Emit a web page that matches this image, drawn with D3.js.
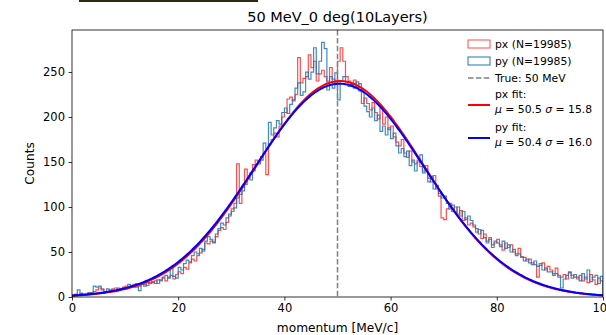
<!DOCTYPE html>
<html>
<head>
<meta charset="utf-8">
<script src="https://cdn.jsdelivr.net/npm/d3@7"></script>
<style>
  body { margin: 0; background: #fff; }
  svg { font-family: "DejaVu Sans", sans-serif; }
</style>
</head>
<body>
<div id="chart"></div>
<script>
///////////// data /////////////

// 200 bins of 0.5 MeV between 0 and 100 MeV/c
const binEdges = [0, 100];
const nBins = 200;

const pxCounts = [
  2, 3, 2, 4, 3, 2, 5, 4, 6, 8,
  10, 9, 5, 6, 8, 9, 10, 7, 9, 11,
  12, 10, 13, 14, 11, 12, 15, 14, 13, 16,
  16, 18, 15, 19, 21, 18, 22, 24, 20, 25,
  28, 26, 33, 31, 38, 42, 40, 46, 49, 53,
  60, 59, 62, 60, 67, 74, 77, 75, 83, 90,
  98, 104, 148, 104, 122, 142, 132, 138, 147, 152,
  150, 156, 160, 136, 170, 175, 182, 178, 190, 200,
  205, 220, 222, 218, 225, 266, 238, 243, 245, 269,
  255, 262, 240, 248, 252, 245, 240, 255, 242, 238,
  262, 277, 262, 245, 240, 236, 241, 233, 237, 215,
  221, 215, 208, 216, 205, 198, 210, 192, 200, 186,
  190, 178, 172, 168, 175, 160, 155, 162, 150, 148,
  152, 145, 140, 146, 132, 128, 135, 120, 112, 88,
  86, 98, 104, 95, 100, 92, 96, 85, 88, 80,
  82, 78, 72, 75, 65, 70, 62, 66, 58, 60,
  64, 58, 52, 60, 55, 58, 50, 48, 54, 45,
  44, 40, 42, 38, 36, 22, 35, 38, 30, 34,
  30, 26, 32, 24, 22, 25, 20, 27, 24, 22,
  20, 24, 18, 22, 16, 25, 19, 14, 21, 18
];

const pyCounts = [
  1, 3, 8, 4, 2, 3, 4, 5, 12, 11,
  12, 8, 6, 9, 7, 8, 6, 10, 9, 10,
  9, 14, 12, 11, 15, 7, 14, 12, 16, 15,
  17, 15, 19, 18, 22, 24, 21, 33, 23, 21,
  33, 30, 37, 41, 39, 46, 50, 48, 54, 51,
  62, 67, 64, 61, 70, 76, 82, 80, 88, 92,
  95, 99, 110, 114, 118, 125, 132, 130, 140, 147,
  148, 152, 171, 165, 194, 180, 188, 196, 192, 205,
  210, 204, 214, 219, 232, 238, 224, 228, 250, 242,
  250, 277, 248, 262, 283, 276, 230, 245, 232, 249,
  219, 240, 245, 239, 234, 236, 232, 239, 229, 230,
  212, 206, 200, 210, 196, 202, 184, 190, 180, 188,
  176, 182, 168, 160, 165, 156, 162, 146, 152, 140,
  150, 158, 138, 142, 128, 134, 120, 124, 115, 110,
  112, 104, 98, 102, 94, 100, 90, 95, 86, 90,
  85, 80, 76, 70, 74, 66, 60, 64, 55, 62,
  60, 56, 62, 54, 58, 50, 53, 46, 48, 44,
  40, 42, 38, 36, 40, 34, 37, 30, 32, 28,
  28, 24, 26, 22, 10, 20, 24, 28, 21, 25,
  22, 18, 26, 20, 30, 17, 22, 24, 15, 23
];

// gaussian fit results (amplitude, mean, sigma)
const pxFit = { amp: 240, mu: 50.5, sigma: 15.8 };
const pyFit = { amp: 237, mu: 50.4, sigma: 16.0 };
const trueMomentum = 50;

const xTicks = [0, 20, 40, 60, 80, 100];
const yTicks = [0, 50, 100, 150, 200, 250];

///////////// layout /////////////
const W = 606, H = 335;
const plot = { left: 72, right: 603, top: 30, bottom: 297 };

const svg = d3.select("#chart").append("svg")
    .attr("width", W)
    .attr("height", H);

// stray dark strip at the very top of the picture
svg.append("rect")
    .attr("x", 79).attr("y", 0)
    .attr("width", 179).attr("height", 2)
    .attr("fill", "#2e2b12");

const x = d3.scaleLinear().domain(binEdges).range([plot.left, plot.right]);
const y = d3.scaleLinear().domain([0, 296.7]).range([plot.bottom, plot.top]);

svg.append("defs").append("clipPath").attr("id", "clip")
    .append("rect")
    .attr("x", plot.left).attr("y", plot.top)
    .attr("width", plot.right - plot.left)
    .attr("height", plot.bottom - plot.top);

const g = svg.append("g").attr("clip-path", "url(#clip)");

const binW = (binEdges[1] - binEdges[0]) / nBins;

//build step outline like matplotlib histtype='step'
function stepPoints(counts) {
    let pts = [[binEdges[0], 0]];
    counts.forEach((c, i) => {
        pts.push([binEdges[0] + i * binW, c]);
        pts.push([binEdges[0] + (i + 1) * binW, c]);
    });
    pts.push([binEdges[1], 0]);
    return pts;
}

const line = d3.line().x(d => x(d[0])).y(d => y(d[1]));

g.append("path")
    .attr("d", line(stepPoints(pxCounts)))
    .attr("fill", "none")
    .attr("stroke", "red")
    .attr("stroke-opacity", 0.7)
    .attr("stroke-width", 1.2);

g.append("path")
    .attr("d", line(stepPoints(pyCounts)))
    .attr("fill", "none")
    .attr("stroke", "#1f77b4")
    .attr("stroke-opacity", 0.85)
    .attr("stroke-width", 1.2);

g.append("line")
    .attr("x1", x(trueMomentum)).attr("x2", x(trueMomentum))
    .attr("y1", plot.top).attr("y2", plot.bottom)
    .attr("stroke", "gray")
    .attr("stroke-width", 1.5)
    .attr("stroke-dasharray", "5.5,2.4");

function gauss(f, v) {
    return f.amp * Math.exp(-((v - f.mu) ** 2) / (2 * f.sigma * f.sigma));
}
const grid = d3.range(0, 100.001, 0.25);

[[pxFit, "red"], [pyFit, "blue"]].forEach(([f, col]) => {
    g.append("path")
        .attr("d", line(grid.map(v => [v, gauss(f, v)])))
        .attr("fill", "none")
        .attr("stroke", col)
        .attr("stroke-width", 2);
});

///////////// axes /////////////
const xAxis = svg.append("g")
    .attr("transform", `translate(0,${plot.bottom})`)
    .call(d3.axisBottom(x).tickValues(xTicks).tickSize(3.5).tickPadding(3.5).tickFormat(d3.format("d")));
const yAxis = svg.append("g")
    .attr("transform", `translate(${plot.left},0)`)
    .call(d3.axisLeft(y).tickValues(yTicks).tickSize(3.5).tickPadding(3.5).tickFormat(d3.format("d")));

[xAxis, yAxis].forEach(a => {
    a.select(".domain").remove();
    a.selectAll("text").attr("font-size", 11.5).attr("fill", "#000")
        .attr("font-family", "DejaVu Sans");
    a.selectAll("line").attr("stroke", "#000").attr("stroke-width", 0.8);
});

svg.append("rect")
    .attr("x", plot.left).attr("y", plot.top)
    .attr("width", plot.right - plot.left)
    .attr("height", plot.bottom - plot.top)
    .attr("fill", "none")
    .attr("stroke", "#000")
    .attr("stroke-width", 0.8);

svg.append("text")
    .attr("x", (plot.left + plot.right) / 2).attr("y", 22)
    .attr("text-anchor", "middle")
    .attr("font-size", 14.5)
    .text("50 MeV_0 deg(10Layers)");

svg.append("text")
    .attr("x", (plot.left + plot.right) / 2).attr("y", 332)
    .attr("text-anchor", "middle")
    .attr("font-size", 12.2)
    .text("momentum [MeV/c]");

svg.append("text")
    .attr("transform", `translate(34,${(plot.top + plot.bottom) / 2}) rotate(-90)`)
    .attr("text-anchor", "middle")
    .attr("font-size", 12.2)
    .text("Counts");

///////////// legend /////////////
const leg = svg.append("g").attr("font-size", 10.8);
const lx = 468, tx = 495;

leg.append("rect").attr("x", lx).attr("y", 40).attr("width", 22).attr("height", 8)
    .attr("fill", "none").attr("stroke", "red").attr("stroke-opacity", 0.7);
leg.append("text").attr("x", tx).attr("y", 48).text("px (N=19985)");

leg.append("rect").attr("x", lx).attr("y", 57).attr("width", 22).attr("height", 8)
    .attr("fill", "none").attr("stroke", "#1f77b4");
leg.append("text").attr("x", tx).attr("y", 65).text("py (N=19985)");

leg.append("line").attr("x1", lx).attr("x2", lx + 22).attr("y1", 78).attr("y2", 78)
    .attr("stroke", "gray").attr("stroke-width", 1.5).attr("stroke-dasharray", "5.5,2.4");
leg.append("text").attr("x", tx).attr("y", 82).text("True: 50 MeV");

const fitEntries = [
    { fit: pxFit, name: "px fit:", col: "red", y0: 98 },
    { fit: pyFit, name: "py fit:", col: "blue", y0: 131 }
];
fitEntries.forEach(e => {
    leg.append("line").attr("x1", lx).attr("x2", lx + 22)
        .attr("y1", e.y0 + 7).attr("y2", e.y0 + 7)
        .attr("stroke", e.col).attr("stroke-width", 2);
    leg.append("text").attr("x", tx).attr("y", e.y0).text(e.name);
    const t = leg.append("text").attr("x", tx).attr("y", e.y0 + 15);
    t.append("tspan").attr("font-style", "italic").text("μ");
    t.append("tspan").text(" = " + e.fit.mu.toFixed(1) + " ");
    t.append("tspan").attr("font-style", "italic").text("σ");
    t.append("tspan").text(" = " + e.fit.sigma.toFixed(1));
});
</script>
</body>
</html>
